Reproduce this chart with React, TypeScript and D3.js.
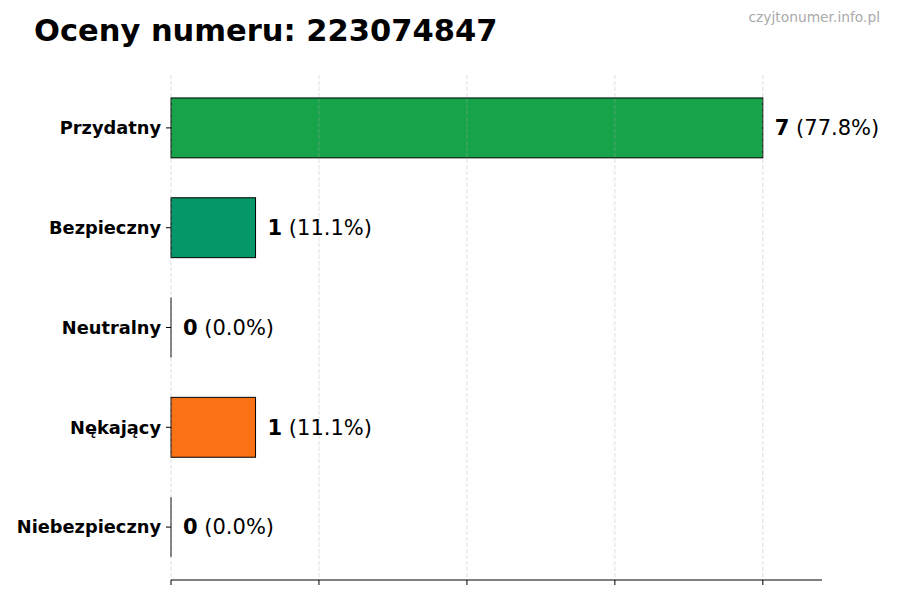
import React from "react";
import * as d3 from "d3";

const categories = ["Przydatny", "Bezpieczny", "Neutralny", "Nękający", "Niebezpieczny"];
const counts = [7, 1, 0, 1, 0];
const colors = ["#16a34a", "#059669", "#6b7280", "#f97316", "#dc2626"];
const xTicks = [0, 1.75, 3.5, 5.25, 7];
const titleText = "Oceny numeru: 223074847";
const watermark = "czyjtonumer.info.pl";

const W = 900;
const H = 600;
const left = 171;
const right = 822;
const top = 75;
const bottom = 580;

export default function App() {
  const total = d3.sum(counts);
  const maxV = d3.max(counts) || 1;
  const x = d3.scaleLinear().domain([0, maxV * 1.1]).range([left, right]);
  const n = categories.length;
  const y = d3
    .scaleLinear()
    .domain([-0.3 - 0.23, n - 1 + 0.3 + 0.23])
    .range([top, bottom]);
  const barH = y(0.6) - y(0);
  const font = "'DejaVu Sans', sans-serif";

  return (
    <svg width={W} height={H} style={{ position: "absolute", left: 0, top: 0 }} fontFamily={font}>
      <rect width={W} height={H} fill="#fff" />
      <text x={34} y={41} fontSize={30.5} fontWeight="bold" fill="#000">
        {titleText}
      </text>
      <text x={880} y={22} fontSize={13.8} fill="#aaaaaa" textAnchor="end">
        {watermark}
      </text>
      {categories.map((c, i) =>
        counts[i] > 0 ? (
          <rect
            key={c}
            x={x(0)}
            y={y(i) - barH / 2}
            width={x(counts[i]) - x(0)}
            height={barH}
            fill={colors[i]}
            stroke="#000"
            strokeWidth={1}
          />
        ) : (
          <line
            key={c}
            x1={x(0)}
            x2={x(0)}
            y1={y(i) - barH / 2}
            y2={y(i) + barH / 2}
            stroke="#000"
            strokeWidth={1}
          />
        )
      )}
      {xTicks.map((t) => (
        <line
          key={"g" + t}
          x1={x(t)}
          x2={x(t)}
          y1={top}
          y2={bottom}
          stroke="#b0b0b0"
          strokeOpacity={0.5}
          strokeWidth={0.8}
          strokeDasharray="4,2"
        />
      ))}
      <line x1={left} x2={right} y1={bottom} y2={bottom} stroke="#000" strokeWidth={1} />
      {xTicks.map((t) => (
        <line key={"t" + t} x1={x(t)} x2={x(t)} y1={bottom} y2={bottom + 5} stroke="#000" strokeWidth={1} />
      ))}
      {categories.map((c, i) => (
        <g key={"l" + c}>
          <line x1={left - 5} x2={left} y1={y(i)} y2={y(i)} stroke="#000" strokeWidth={1} />
          <text
            x={left - 10}
            y={y(i)}
            dy="0.35em"
            textAnchor="end"
            fontSize={17.8}
            fontWeight="bold"
            fill="#000"
          >
            {c}
          </text>
          <text x={x(counts[i]) + 12} y={y(i)} dy="0.35em" fontSize={21} fill="#000">
            <tspan fontWeight="bold">{counts[i]}</tspan>
            <tspan> ({((counts[i] / total) * 100).toFixed(1)}%)</tspan>
          </text>
        </g>
      ))}
    </svg>
  );
}
